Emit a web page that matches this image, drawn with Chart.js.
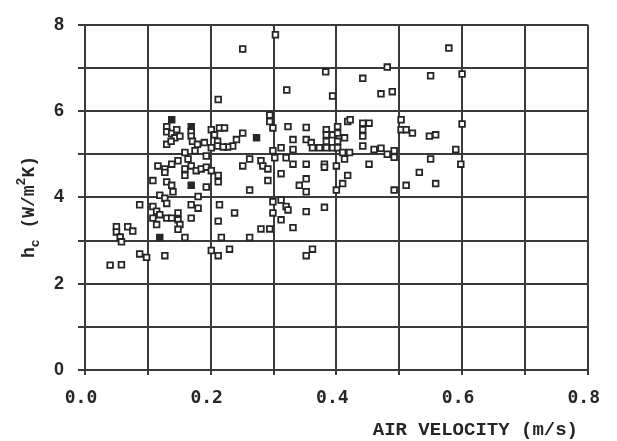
<!DOCTYPE html>
<html>
<head>
<meta charset="utf-8">
<script src="https://cdn.jsdelivr.net/npm/chart.js@4.4.1/dist/chart.umd.min.js"></script>
<style>
  html, body { margin: 0; padding: 0; background: #fff; }
  #wrap { width: 617px; height: 441px; position: relative; }
</style>
</head>
<body>
<div id="wrap"><canvas id="hcChart" width="617" height="441"></canvas></div>
<script>
// air velocity (m/s) / convective coefficient (W/m2K), open squares
const openX = [
  0.040, 0.058, 0.087, 0.098, 0.127, 0.050, 0.050, 0.056, 0.058, 0.068, 0.076,
  0.130, 0.130, 0.138, 0.146, 0.143, 0.130, 0.137, 0.151,
  0.169, 0.169, 0.171, 0.179, 0.190, 0.201, 0.206, 0.214, 0.211, 0.211, 0.201, 0.193,
  0.175, 0.159, 0.164, 0.148, 0.138, 0.127, 0.116, 0.108, 0.127, 0.130, 0.138, 0.140,
  0.159, 0.159, 0.169, 0.177, 0.185, 0.193, 0.201, 0.212, 0.212, 0.193, 0.180, 0.169,
  0.180, 0.169, 0.119, 0.127, 0.130, 0.087, 0.108, 0.114, 0.108, 0.119, 0.130, 0.138,
  0.148, 0.148, 0.151, 0.148, 0.114,
  0.159, 0.214, 0.212, 0.217, 0.201, 0.212,
  0.294, 0.294, 0.299, 0.323, 0.352, 0.384, 0.384, 0.394, 0.402, 0.402, 0.418, 0.222,
  0.251, 0.241, 0.235, 0.227, 0.220,
  0.312, 0.331, 0.331, 0.352, 0.360, 0.362, 0.373, 0.384, 0.384, 0.394, 0.402, 0.402, 0.410,
  0.299, 0.302, 0.320, 0.331, 0.352, 0.381, 0.381, 0.400, 0.418, 0.410, 0.400,
  0.262, 0.251, 0.280, 0.283, 0.291, 0.312, 0.291, 0.262, 0.352, 0.341, 0.352,
  0.238, 0.299, 0.312, 0.320, 0.323, 0.299, 0.312, 0.352, 0.381, 0.280, 0.294, 0.331,
  0.262, 0.230, 0.352, 0.362,
  0.251, 0.303, 0.383, 0.481, 0.442, 0.321, 0.394, 0.471, 0.489, 0.212, 0.579, 0.550,
  0.600, 0.600,
  0.422, 0.442, 0.452, 0.442, 0.442, 0.413, 0.442, 0.460, 0.471, 0.481, 0.492, 0.492,
  0.421, 0.413, 0.452, 0.492, 0.503, 0.503, 0.511, 0.521, 0.548, 0.558, 0.590, 0.550,
  0.532, 0.511, 0.558, 0.598
];
const openY = [
  2.43, 2.44, 2.69, 2.61, 2.65, 3.32, 3.20, 3.08, 2.97, 3.32, 3.22,
  5.64, 5.52, 5.48, 5.57, 5.38, 5.23, 5.30, 5.42,
  5.52, 5.42, 5.30, 5.23, 5.27, 5.57, 5.45, 5.61, 5.30, 5.19, 5.15, 4.96,
  5.08, 5.04, 4.89, 4.85, 4.77, 4.66, 4.73, 4.39, 4.58, 4.36, 4.28, 4.13,
  4.51, 4.66, 4.73, 4.62, 4.66, 4.70, 4.62, 4.51, 4.36, 4.24, 4.02, 3.83,
  3.75, 3.52, 4.05, 3.98, 3.86, 3.83, 3.79, 3.68, 3.52, 3.60, 3.52, 3.52,
  3.64, 3.48, 3.37, 3.26, 3.37,
  3.07, 3.83, 3.45, 3.07, 2.77, 2.65,
  5.91, 5.76, 5.61, 5.64, 5.62, 5.57, 5.45, 5.45, 5.64, 5.49, 5.76, 5.61,
  5.49, 5.34, 5.19, 5.17, 5.17,
  5.15, 5.34, 5.11, 5.34, 5.27, 5.15, 5.15, 5.30, 5.15, 5.15, 5.30, 5.15, 5.04,
  5.08, 4.92, 4.92, 4.77, 4.77, 4.77, 4.70, 4.73, 4.51, 4.32, 4.17,
  4.89, 4.73, 4.85, 4.73, 4.66, 4.55, 4.39, 4.17, 4.43, 4.28, 4.13,
  3.64, 3.90, 3.94, 3.79, 3.71, 3.64, 3.48, 3.67, 3.77, 3.27, 3.27, 3.30,
  3.07, 2.80, 2.65, 2.80,
  7.44, 7.77, 6.91, 7.02, 6.76, 6.49, 6.35, 6.40, 6.45, 6.27, 7.46, 6.82,
  6.86, 5.70,
  5.80, 5.72, 5.72, 5.57, 5.42, 5.38, 5.19, 5.11, 5.14, 5.00, 5.08, 4.93,
  5.04, 4.89, 4.77, 4.17, 5.80, 5.57, 5.57, 5.49, 5.42, 5.45, 5.11, 4.89,
  4.58, 4.28, 4.32, 4.77
];
// filled squares
const filledX = [0.138, 0.169, 0.169, 0.119, 0.273];
const filledY = [5.80, 5.64, 4.28, 3.07, 5.38];

const yTicks = [0, 2, 4, 6, 8];
const xTicks = ['0.0', '0.2', '0.4', '0.6', '0.8'];
const xTitle = 'AIR VELOCITY (m/s)';

const ink = '#262626';
const gridInk = '#3a3a3a';

function toPoints(xs, ys) {
    return xs.map((x, i) => ({ x: x, y: ys[i] }));
}

// axis titles drawn by hand (subscript c, superscript 2)
const titlePlugin = {
    id: 'axisTitles',
    afterDraw(chart) {
        const ctx = chart.ctx;
        ctx.save();
        ctx.fillStyle = ink;
        ctx.textBaseline = 'alphabetic';

        // x title, right side under the axis
        ctx.font = 'bold 19px "Liberation Mono"';
        ctx.textAlign = 'right';
        ctx.fillText(xTitle, 578, 435);

        // y title, rotated
        const big = 'bold 18px "Liberation Mono"';
        const small = 'bold 13px "Liberation Mono"';
        const parts = [
            { t: 'h', f: big, dy: 0 },
            { t: 'c', f: small, dy: 5 },
            { t: ' (W/m', f: big, dy: 0 },
            { t: '2', f: small, dy: -9 },
            { t: 'K)', f: big, dy: 0 }
        ];
        let total = 0;
        parts.forEach(p => { ctx.font = p.f; p.w = ctx.measureText(p.t).width; total += p.w; });
        ctx.translate(34, 207);
        ctx.rotate(-Math.PI / 2);
        ctx.textAlign = 'left';
        let cx = -total / 2;
        parts.forEach(p => {
            ctx.font = p.f;
            ctx.fillText(p.t, cx, p.dy);
            cx += p.w;
        });
        ctx.restore();
    }
};

const ctx = document.getElementById('hcChart').getContext('2d');
new Chart(ctx, {
    type: 'scatter',
    data: {
        datasets: [
            {
                data: toPoints(openX, openY),
                pointStyle: 'rect',
                pointRadius: 4,
                pointBorderWidth: 1.8,
                borderColor: ink,
                backgroundColor: '#fff'
            },
            {
                data: toPoints(filledX, filledY),
                pointStyle: 'rect',
                pointRadius: 4,
                pointBorderWidth: 1.8,
                borderColor: ink,
                backgroundColor: ink
            }
        ]
    },
    options: {
        responsive: false,
        animation: false,
        layout: { padding: { top: 18, right: 28, left: 0, bottom: 0 } },
        plugins: { legend: { display: false }, tooltip: { enabled: false } },
        scales: {
            x: {
                type: 'linear',
                min: 0, max: 0.8,
                afterFit: (s) => { s.height = 71; },
                border: { color: gridInk, width: 2 },
                grid: { color: gridInk, lineWidth: 2, tickLength: 5, tickColor: gridInk },
                ticks: {
                    stepSize: 0.1,
                    padding: 13,
                    labelOffset: -4,
                    maxRotation: 0,
                    autoSkip: false,
                    color: ink,
                    font: { family: '"DejaVu Sans Mono"', size: 18, weight: 'bold' },
                    callback: (v) => {
                        const k = Math.round(v * 10);
                        return k % 2 === 0 ? xTicks[k / 2] : '';
                    }
                }
            },
            y: {
                type: 'linear',
                min: 0, max: 8,
                afterFit: (s) => { s.width = 85; },
                border: { color: gridInk, width: 2 },
                grid: { color: gridInk, lineWidth: 2, tickLength: 7, tickColor: gridInk },
                ticks: {
                    stepSize: 1,
                    padding: 14,
                    color: ink,
                    font: { family: '"Liberation Sans"', size: 18, weight: 'bold' },
                    callback: (v) => yTicks.includes(v) ? String(v) : ''
                }
            }
        }
    },
    plugins: [titlePlugin]
});
</script>
</body>
</html>
